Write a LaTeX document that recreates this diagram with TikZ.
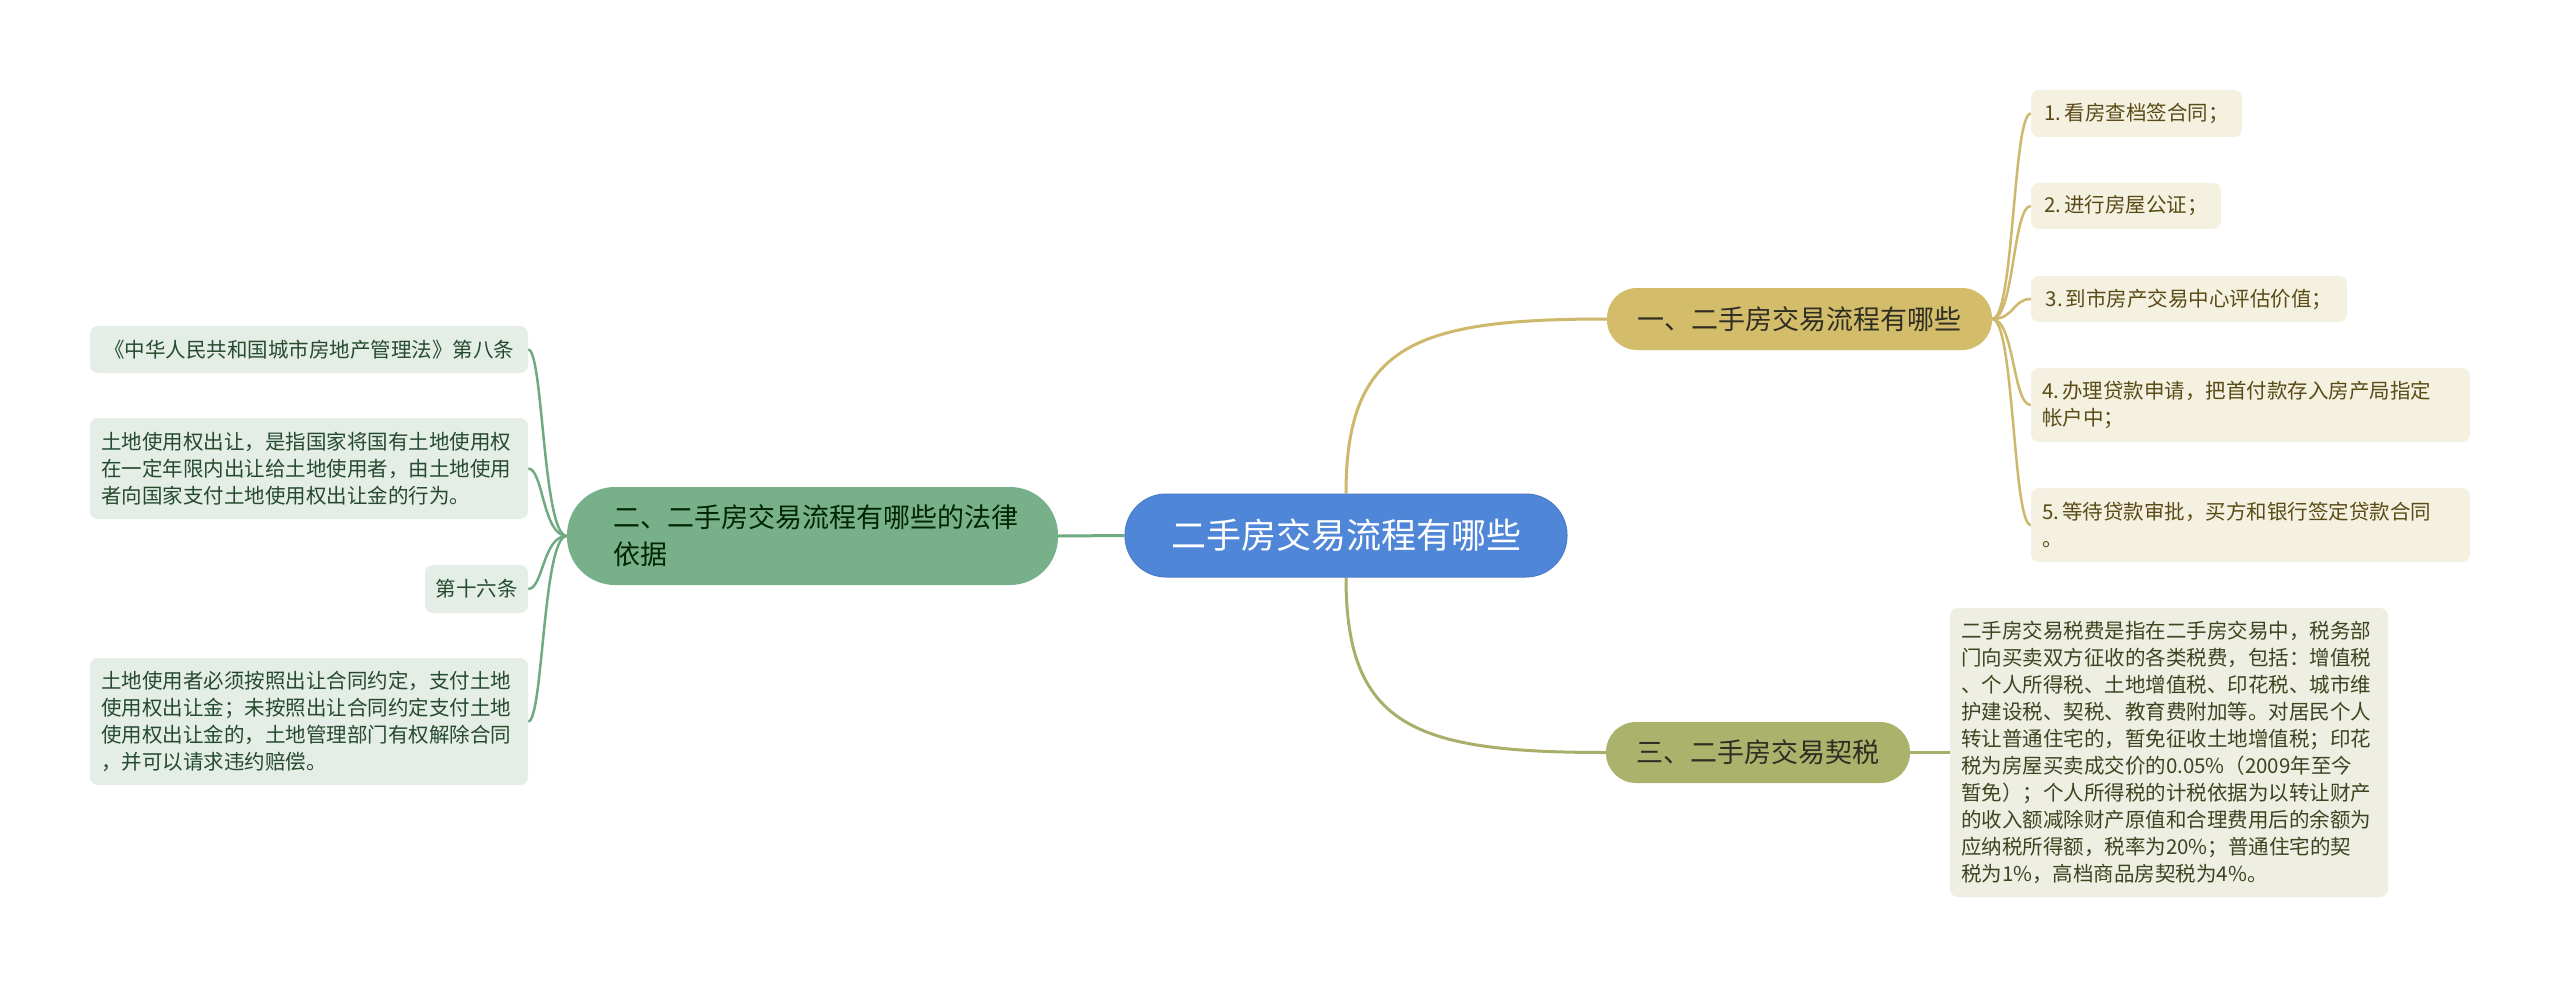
\documentclass[tikz,border=0pt]{standalone}
\usepackage{fontspec}
\setmainfont{Noto Sans CJK SC}
\usetikzlibrary{backgrounds}
\definecolor{cblue}{HTML}{4F86D8}
\definecolor{cblueD}{HTML}{4A7CC8}
\definecolor{bgold}{HTML}{D4BD6A}
\definecolor{bolive}{HTML}{AAB26C}
\definecolor{bgreen}{HTML}{78B08A}
\definecolor{lgoldfill}{HTML}{F5F1E1}
\definecolor{lolivefill}{HTML}{EEEFE2}
\definecolor{lgreenfill}{HTML}{E4EEE6}
\definecolor{lgoldtext}{HTML}{5A4B16}
\definecolor{lolivetext}{HTML}{3B4520}
\definecolor{lgreentext}{HTML}{264A30}
\definecolor{btext}{HTML}{2E2E22}
\definecolor{cgold}{HTML}{CDB86C}
\definecolor{colive}{HTML}{A9AF6A}
\definecolor{cgreen}{HTML}{6FAA80}
\newcommand{\numgap}{\kern3pt}
\tikzset{
  rootbox/.style={fill=cblue, draw=cblueD, line width=1pt, rounded corners=41pt,
    minimum width=442pt, minimum height=83pt, inner sep=0pt, text=white,
    font=\fontsize{35}{40}\selectfont},
  branchbox/.style={rounded corners=30pt, inner sep=0pt, text=btext,
    font=\fontsize{27}{37}\selectfont},
  leafbase/.style={rounded corners=8pt, inner xsep=11pt, inner ysep=0pt,
    font=\fontsize{20.5}{27}\selectfont},
  leafgold/.style={leafbase, fill=lgoldfill, text=lgoldtext},
  leafolive/.style={leafbase, fill=lolivefill, text=lolivetext},
  leafgreen/.style={leafbase, fill=lgreenfill, text=lgreentext},
  mainlink/.style={line width=3pt},
  leaflink/.style={line width=2.5pt},
}
\begin{document}
\begin{tikzpicture}[x=1pt,y=-1pt]
\useasboundingbox (0,0) rectangle (2560,987);
% root
\node[rootbox] (c) at (1346,535.5) {二手房交易流程有哪些};
% branches
\node[branchbox, fill=bgold, minimum width=385pt, minimum height=62pt] (b1) at (1799.5,319) {一、二手房交易流程有哪些};
\node[branchbox, fill=bgreen, rounded corners=48pt, minimum height=98pt, text width=399pt, inner xsep=46pt, align=left, text=black!85!green] (b2) at (812.5,536) {二、二手房交易流程有哪些的法律\\依据};
\node[branchbox, fill=bolive, minimum width=304pt, minimum height=61pt] (b3) at (1758,752.5) {三、二手房交易契税};
% right leaves
\node[leafgold, minimum width=211pt, minimum height=47pt] (r1) at (2136.5,113.5) {1.\numgap 看房查档签合同；};
\node[leafgold, minimum width=190pt, minimum height=46pt] (r2) at (2126,206) {2.\numgap 进行房屋公证；};
\node[leafgold, minimum width=316pt, minimum height=46pt] (r3) at (2189,299) {3.\numgap 到市房产交易中心评估价值；};
\node[leafgold, text width=417pt, minimum height=74pt, align=left] (r4) at (2250.5,405) {4.\numgap 办理贷款申请，把首付款存入房产局指定\\帐户中；};
\node[leafgold, text width=417pt, minimum height=74pt, align=left] (r5) at (2250.5,525) {5.\numgap 等待贷款审批，买方和银行签定贷款合同\\。};
\node[leafolive, text width=416pt, minimum height=289pt, align=left] (tax) at (2169,752.5) {二手房交易税费是指在二手房交易中，税务部\\门向买卖双方征收的各类税费，包括：增值税\\、个人所得税、土地增值税、印花税、城市维\\护建设税、契税、教育费附加等。对居民个人\\转让普通住宅的，暂免征收土地增值税；印花\\税为房屋买卖成交价的0.05\%（2009年至今\\暂免）；个人所得税的计税依据为以转让财产\\的收入额减除财产原值和合理费用后的余额为\\应纳税所得额，税率为20\%；普通住宅的契\\税为1\%，高档商品房契税为4\%。};
% left leaves
\node[leafgreen, minimum width=438pt, minimum height=47pt] (l1) at (309,349.5) {《中华人民共和国城市房地产管理法》第八条};
\node[leafgreen, text width=416pt, minimum height=101pt, align=left] (l2) at (309,468.5) {土地使用权出让，是指国家将国有土地使用权\\在一定年限内出让给土地使用者，由土地使用\\者向国家支付土地使用权出让金的行为。};
\node[leafgreen, minimum width=103pt, minimum height=48pt, inner xsep=8pt] (l3) at (476.5,589) {第十六条};
\node[leafgreen, text width=416pt, minimum height=127pt, align=left] (l4) at (309,721.5) {土地使用者必须按照出让合同约定，支付土地\\使用权出让金；未按照出让合同约定支付土地\\使用权出让金的，土地管理部门有权解除合同\\，并可以请求违约赔偿。};
% connectors
\begin{scope}[on background layer]
\fill[white] (0,0) rectangle (2560,987);
\draw[mainlink, cgold] (c.north) .. controls +(0,-150) and +(-190,0) .. (b1.west);
\draw[mainlink, colive] (c.south) .. controls +(0,150) and +(-190,0) .. (b3.west);
\draw[mainlink, cgreen] (c.west) -- (b2.east);
\foreach \n in {r1,r2,r3,r4,r5}
  \draw[leaflink, cgold] (b1.east) .. controls +(22,0) and +(-18,0) .. (\n.west);
\draw[leaflink, colive] (b3.east) -- (tax.west);
\foreach \n in {l1,l2,l3,l4}
  \draw[leaflink, cgreen] (b2.west) .. controls +(-24,0) and +(15,0) .. (\n.east);
\end{scope}
\end{tikzpicture}
\end{document}
